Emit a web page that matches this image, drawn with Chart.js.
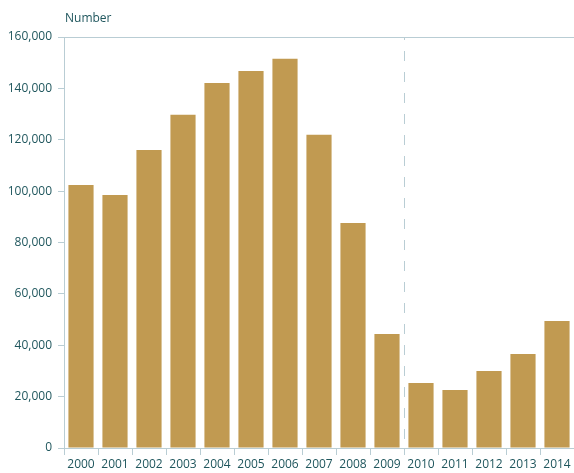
<!DOCTYPE html>
<html>
<head>
<meta charset="utf-8">
<script src="https://cdn.jsdelivr.net/npm/chart.js@4"></script>
<style>
  html, body { margin: 0; padding: 0; background: #fff; }
  #wrap { width: 574px; height: 473px; }
</style>
</head>
<body>
<div id="wrap"><canvas id="chart"></canvas></div>
<script>
// yearly counts
const years = ["2000", "2001", "2002", "2003", "2004", "2005", "2006", "2007",
               "2008", "2009", "2010", "2011", "2012", "2013", "2014"];
const counts = [102400, 98500, 116000, 129700, 142100, 146800, 151500, 121900,
                87600, 44400, 25300, 22600, 30000, 36600, 49400];
const yTicks = [0, 20000, 40000, 60000, 80000, 100000, 120000, 140000, 160000];
const splitAfter = "2009";

const AXIS = "#b9cdd4";
const TEXT = "#1f565d";
const BAR = "#c19a51";
const FONT = { family: "'Open Sans', sans-serif", size: 12 };

// dashed divider between two years + "Number" heading
const extras = {
  id: "extras",
  afterDatasetsDraw(chart) {
    const { ctx, chartArea, scales } = chart;
    const i = years.indexOf(splitAfter);
    const x = Math.round((scales.x.getPixelForValue(i) + scales.x.getPixelForValue(i + 1)) / 2) + 0.5;
    ctx.save();
    ctx.strokeStyle = AXIS;
    ctx.lineWidth = 1;
    ctx.setLineDash([10, 11]);
    ctx.lineDashOffset = 7;
    ctx.beginPath();
    ctx.moveTo(x, chartArea.top);
    ctx.lineTo(x, chartArea.bottom);
    ctx.stroke();
    ctx.restore();

    ctx.save();
    ctx.fillStyle = TEXT;
    ctx.font = "12px 'Open Sans', sans-serif";
    ctx.textBaseline = "middle";
    ctx.fillText("Number", chartArea.left + 1, 18.5);
    ctx.restore();
  }
};

new Chart(document.getElementById("chart"), {
  type: "bar",
  data: {
    labels: years,
    datasets: [{
      data: counts,
      backgroundColor: BAR,
      barPercentage: 0.74,
      categoryPercentage: 1.0
    }]
  },
  options: {
    responsive: true,
    maintainAspectRatio: false,
    animation: false,
    layout: { padding: { top: 37, right: -1, left: 0, bottom: 0 } },
    plugins: { legend: { display: false }, tooltip: { enabled: false } },
    scales: {
      x: {
        offset: true,
        border: { color: AXIS, width: 1 },
        grid: {
          offset: true,
          color: "rgba(0,0,0,0)",
          tickColor: AXIS,
          tickLength: 7,
          drawOnChartArea: false
        },
        ticks: { color: TEXT, font: FONT, padding: 2, maxRotation: 0, autoSkip: false },
        afterFit: s => { s.height = 25; }
      },
      y: {
        min: 0,
        max: 160000,
        border: { color: AXIS, width: 1 },
        afterBuildTicks: s => { s.ticks = yTicks.map(v => ({ value: v })); },
        grid: {
          color: c => (c.tick && c.tick.value === 160000 ? AXIS : "rgba(0,0,0,0)"),
          tickColor: AXIS,
          tickLength: 6
        },
        ticks: {
          color: TEXT,
          font: FONT,
          padding: 6,
          callback: v => v.toLocaleString("en-US")
        },
        afterFit: s => { s.width = 64; }
      }
    }
  },
  plugins: [extras]
});
</script>
</body>
</html>
